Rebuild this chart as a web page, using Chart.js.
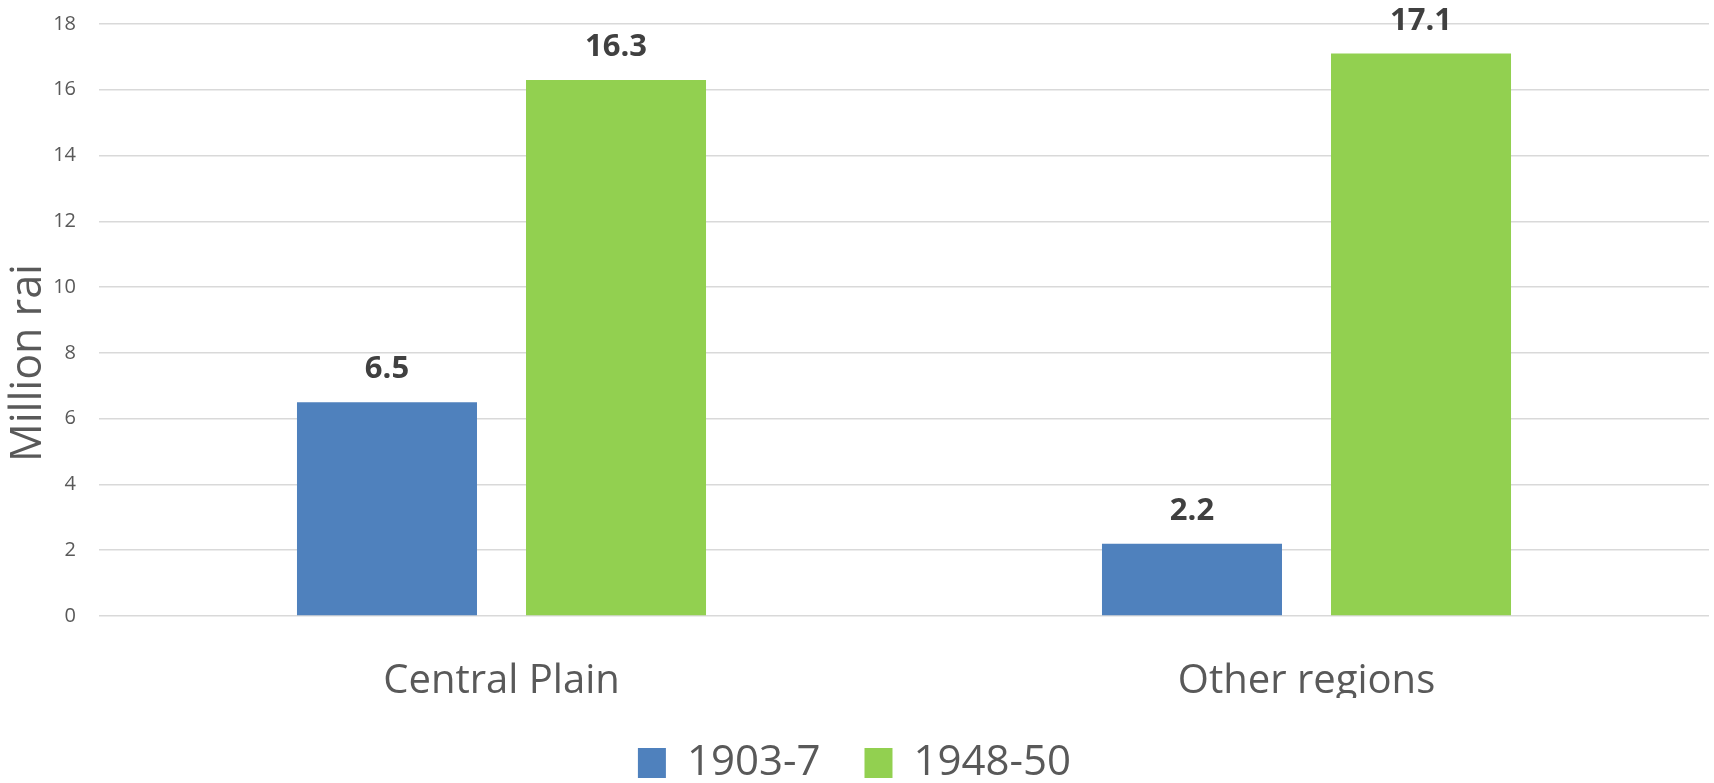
<!DOCTYPE html>
<html>
<head>
<meta charset="utf-8">
<script src="https://cdn.jsdelivr.net/npm/chart.js@4"></script>
<style>
  html, body { margin: 0; padding: 0; background: #ffffff; }
  #wrap { width: 1714px; height: 783px; position: relative; }
</style>
</head>
<body>
<div id="wrap"><canvas id="c"></canvas></div>
<script>
const categories = ["Central Plain", "Other regions"];
const seriesNames = ["1903-7", "1948-50"];
const values1903 = [6.5, 2.2];
const values1948 = [16.3, 17.1];
const yTicks = [0, 2, 4, 6, 8, 10, 12, 14, 16, 18];
const yTitle = "Million rai";

const FONT = "'Open Sans', 'Liberation Sans', sans-serif";

const dataLabelPlugin = {
  id: 'dataLabels',
  afterDatasetsDraw(chart) {
    const ctx = chart.ctx;
    ctx.save();
    ctx.font = "bold 31px " + FONT;
    ctx.fillStyle = '#404040';
    ctx.textAlign = 'center';
    ctx.textBaseline = 'alphabetic';
    chart.data.datasets.forEach((ds, di) => {
      const meta = chart.getDatasetMeta(di);
      meta.data.forEach((bar, i) => {
        ctx.fillText(ds.data[i].toFixed(1), bar.x, bar.y - 24);
      });
    });
    ctx.restore();
  }
};

const yTitlePlugin = {
  id: 'yTitle',
  afterDraw(chart) {
    const ctx = chart.ctx;
    ctx.save();
    ctx.translate(29, 363);
    ctx.rotate(-Math.PI / 2);
    ctx.font = "43px " + FONT;
    ctx.fillStyle = '#595959';
    ctx.textAlign = 'center';
    ctx.textBaseline = 'middle';
    ctx.fillText(yTitle, 0, 0);
    ctx.restore();
  }
};

new Chart(document.getElementById('c'), {
  type: 'bar',
  data: {
    labels: categories,
    datasets: [
      { label: seriesNames[0], data: values1903, backgroundColor: '#4F81BD',
        categoryPercentage: 0.569, barPercentage: 0.786 },
      { label: seriesNames[1], data: values1948, backgroundColor: '#92D050',
        categoryPercentage: 0.569, barPercentage: 0.786 }
    ]
  },
  options: {
    responsive: true,
    maintainAspectRatio: false,
    animation: false,
    layout: { padding: { top: 24, right: 5, left: 0, bottom: -11 } },
    plugins: {
      legend: {
        position: 'bottom',
        labels: {
          font: { family: FONT, size: 42 },
          color: '#595959',
          boxWidth: 28,
          boxHeight: 30,
          padding: 44
        }
      },
      tooltip: { enabled: false },
      title: { display: false }
    },
    scales: {
      x: {
        grid: { display: false, drawTicks: false },
        border: { display: false },
        ticks: { font: { family: FONT, size: 40 }, color: '#595959', padding: 42 },
        afterFit(scale) { scale.height = 82; scale.paddingLeft = 0; scale.paddingRight = 0; }
      },
      y: {
        min: 0,
        max: 18,
        afterBuildTicks(scale) { scale.ticks = yTicks.map(v => ({ value: v })); },
        grid: { color: '#D9D9D9', lineWidth: 1.5, drawTicks: false },
        border: { display: false },
        ticks: { font: { family: FONT, size: 20 }, color: '#595959', padding: 23 },
        afterFit(scale) { scale.width = 99; scale.paddingTop = 0; scale.paddingBottom = 0; }
      }
    }
  },
  plugins: [dataLabelPlugin, yTitlePlugin]
});
</script>
</body>
</html>
